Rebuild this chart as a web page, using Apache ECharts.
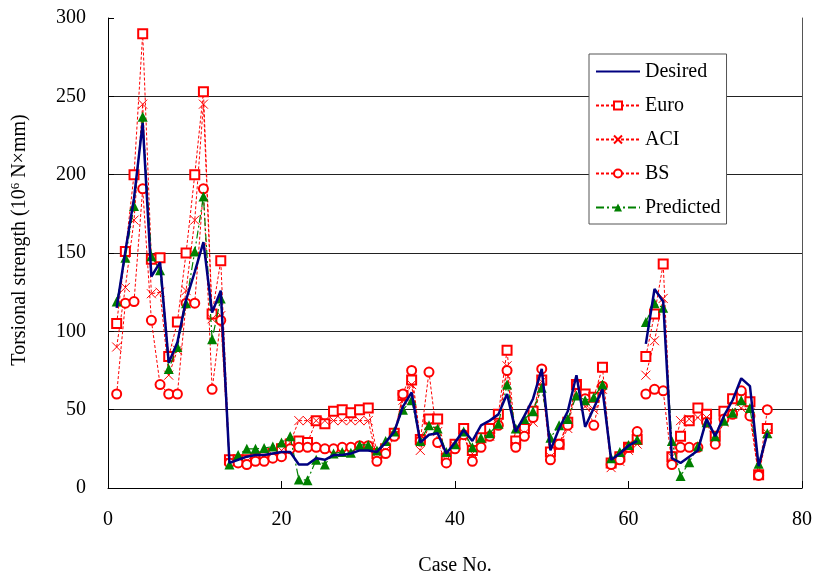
<!DOCTYPE html>
<html>
<head>
<meta charset="utf-8">
<script src="https://cdn.jsdelivr.net/npm/echarts@6/dist/echarts.min.js"></script>
<style>
    html, body { margin: 0; padding: 0; background: #fff; }
    #picture { width: 815px; height: 581px; }
</style>
</head>
<body>
<div id="picture"></div>
<script>
// values, one per case (case no. = index + 1)
var desired = [115, 151, 185, 233, 135, 144, 80, 93, 120, 138, 157, 112, 126, 16,
    18, 20, 21, 21, 22, 23, 23, 15, 15, 19, 18, 21, 21, 22, 24, 24, 23, 29, 36, 52, 61,
    29, 34, 35, 22, 29, 37, 30, 40, 43, 47, 60, 36, 46, 57, 76, 24, 38, 49, 72, 39, 51, 63, 18, 22, 27, 30,
    92, 127, 119, 19, 16, 20, 24, 44, 33, 46, 56, 70, 65, 14, 35];
var euro = [105, 151, 200, 290, 146, 147, 84, 106, 150, 200, 253, 111, 145, 18,
    18, 18, 19, 20, 22, 25, 28, 30, 29, 43, 41, 49, 50, 48, 50, 51, 22, 25, 35, 59, 69,
    31, 44, 44, 19, 28, 38, 24, 32, 38, 47, 88, 30, 38, 49, 69, 23, 28, 42, 66, 60, 58, 77, 16, 20, 26, 31,
    84, 111, 143, 20, 33, 43, 51, 47, 33, 49, 57, 58, 55, 8.5, 38];
var aci = [90, 128, 171, 245, 124, 125, 72, 88, 126, 171, 245, 108, 110, 17,
    17, 17, 18, 19, 21, 24, 29, 43, 43, 43, 43, 43, 43, 43, 43, 43, 19, 24, 34, 56, 66,
    24, 40, 36, 18, 27, 33, 22, 28, 33, 41, 78, 27, 35, 42, 68, 20, 27, 38, 65, 52, 50, 63, 13, 17, 24, 28,
    72, 94, 121, 20, 43, 44, 45, 45, 30, 42, 47, 51, 48, 8, 35];
var bs = [60, 118, 119, 191, 107, 66, 60, 60, 118, 118, 191, 63, 107, 16,
    16, 15, 17, 17, 19, 20, 25, 26, 26, 26, 25, 25, 26, 26, 27, 27, 17, 22, 33, 60, 75,
    30, 74, 29, 16, 25, 34, 17, 26, 33, 40, 75, 26, 33, 45, 76, 18, 28, 40, 66, 57, 40, 65, 15, 18, 26, 36,
    60, 63, 62, 15, 26, 26, 26, 42, 28, 44, 47, 62, 46, 8, 50];
var predicted = [119, 147, 180, 237, 148, 139, 76, 90, 118, 151, 186, 95, 121, 15,
    21, 25, 25, 25.5, 26.5, 29, 33, 5.5, 5, 18, 15, 22, 23, 22.5, 27.5, 27.5, 24, 30, 36, 50, 56,
    30, 40, 38, 23, 28, 36, 26, 32, 35, 41, 66, 38, 44, 49, 64, 32, 40, 44, 59, 56, 58, 66, 19, 23, 27.5, 31,
    106, 118, 115, 30, 7.6, 16.5, 26.6, 42, 33, 43, 48, 56, 51, 15.5, 35];
// the lines are not joined between case 61 and case 62
var breakAfter = 61;
var xTicks = [0, 20, 40, 60, 80];
var yTicks = [0, 50, 100, 150, 200, 250, 300];

var font = "'Liberation Serif', 'Times New Roman', serif";

function toPairs(vals) {
    var out = [];
    for (var i = 0; i < vals.length; i++) {
        out.push([i + 1, vals[i]]);
        if (i + 1 === breakAfter) out.push([breakAfter + 0.5, '-']);
    }
    return out;
}

var myChart = echarts.init(document.getElementById('picture'));
var option = {
    animation: false,
    backgroundColor: '#fff',
    grid: { left: 108, right: 12, top: 18, bottom: 89 },
    legend: {
        orient: 'vertical',
        left: 589,
        top: 54,
        padding: [7, 6, 6, 6],
        backgroundColor: '#fff',
        borderColor: '#555',
        borderWidth: 1,
        itemWidth: 44,
        itemHeight: 10,
        itemGap: 13,
        textStyle: { fontFamily: font, fontSize: 20, color: '#000', lineHeight: 21 },
        data: [
            { name: 'Desired', itemStyle: { opacity: 0 } },
            'Euro', 'ACI', 'BS', 'Predicted'
        ]
    },
    xAxis: {
        type: 'value',
        min: xTicks[0],
        max: xTicks[xTicks.length - 1],
        interval: xTicks[1] - xTicks[0],
        name: 'Case No.',
        nameLocation: 'middle',
        nameGap: 68,
        nameTextStyle: { fontFamily: font, fontSize: 20, color: '#000' },
        axisLine: { lineStyle: { color: '#000', width: 1 } },
        axisTick: { inside: true, length: 7, lineStyle: { color: '#000' } },
        axisLabel: { fontFamily: font, fontSize: 20, color: '#000', margin: 22 },
        splitLine: { show: false }
    },
    yAxis: [{
        type: 'value',
        min: yTicks[0],
        max: yTicks[yTicks.length - 1],
        interval: yTicks[1] - yTicks[0],
        name: '{a|Torsional strength (10}{s|6}{a| N×mm)}',
        nameLocation: 'middle',
        nameGap: 78,
        nameTextStyle: {
            padding: [0, 0, 0, 26],
            rich: {
                a: { fontFamily: font, fontSize: 20, color: '#000' },
                s: { fontFamily: font, fontSize: 13, color: '#000', verticalAlign: 'top', padding: [0, 0, 8, 0] }
            }
        },
        axisLine: { show: true, lineStyle: { color: '#000', width: 1 } },
        axisTick: { show: true, inside: true, length: 6, lineStyle: { color: '#000' } },
        axisLabel: { fontFamily: font, fontSize: 20, color: '#000', margin: 22 },
        splitLine: { show: true, showMinLine: false, showMaxLine: false, lineStyle: { color: '#222', width: 1 } }
    }, {
        type: 'value',
        position: 'right',
        min: yTicks[0],
        max: yTicks[yTicks.length - 1],
        interval: yTicks[1] - yTicks[0],
        axisLine: { show: true, lineStyle: { color: '#555', width: 1 } },
        axisTick: { show: false },
        axisLabel: { show: false },
        splitLine: { show: false }
    }],
    series: [{
        name: 'Desired',
        type: 'line',
        data: toPairs(desired),
        symbol: 'none',
        connectNulls: false,
        color: '#000080',
        lineStyle: { color: '#000080', width: 2.5 },
        z: 6
    }, {
        name: 'Euro',
        type: 'line',
        data: toPairs(euro),
        symbol: 'emptyRect',
        symbolSize: 9,
        connectNulls: false,
        color: '#ff0000',
        itemStyle: { color: '#ff0000', borderColor: '#ff0000', borderWidth: 1 },
        lineStyle: { color: '#ff0000', width: 1, type: [3, 2] },
        z: 3
    }, {
        name: 'ACI',
        type: 'line',
        data: toPairs(aci),
        symbol: 'path://M0,0L10,10M10,0L0,10',
        symbolSize: 9,
        connectNulls: false,
        color: '#ff0000',
        itemStyle: { color: '#ff0000', borderColor: '#ff0000', borderWidth: 1 },
        lineStyle: { color: '#ff0000', width: 1, type: [3, 2] },
        z: 3
    }, {
        name: 'BS',
        type: 'line',
        data: toPairs(bs),
        symbol: 'emptyCircle',
        symbolSize: 9,
        connectNulls: false,
        color: '#ff0000',
        itemStyle: { color: '#ff0000', borderColor: '#ff0000', borderWidth: 1 },
        lineStyle: { color: '#ff0000', width: 1, type: [3, 2] },
        z: 3
    }, {
        name: 'Predicted',
        type: 'line',
        data: toPairs(predicted),
        symbol: 'triangle',
        symbolSize: 10,
        connectNulls: false,
        color: '#008000',
        itemStyle: { color: '#008000' },
        lineStyle: { color: '#008000', width: 1.2, type: [8, 3, 2, 3] },
        z: 4
    }]
};
myChart.setOption(option);

window.onresize = function() {
    myChart.resize();
};
</script>
</body>
</html>
